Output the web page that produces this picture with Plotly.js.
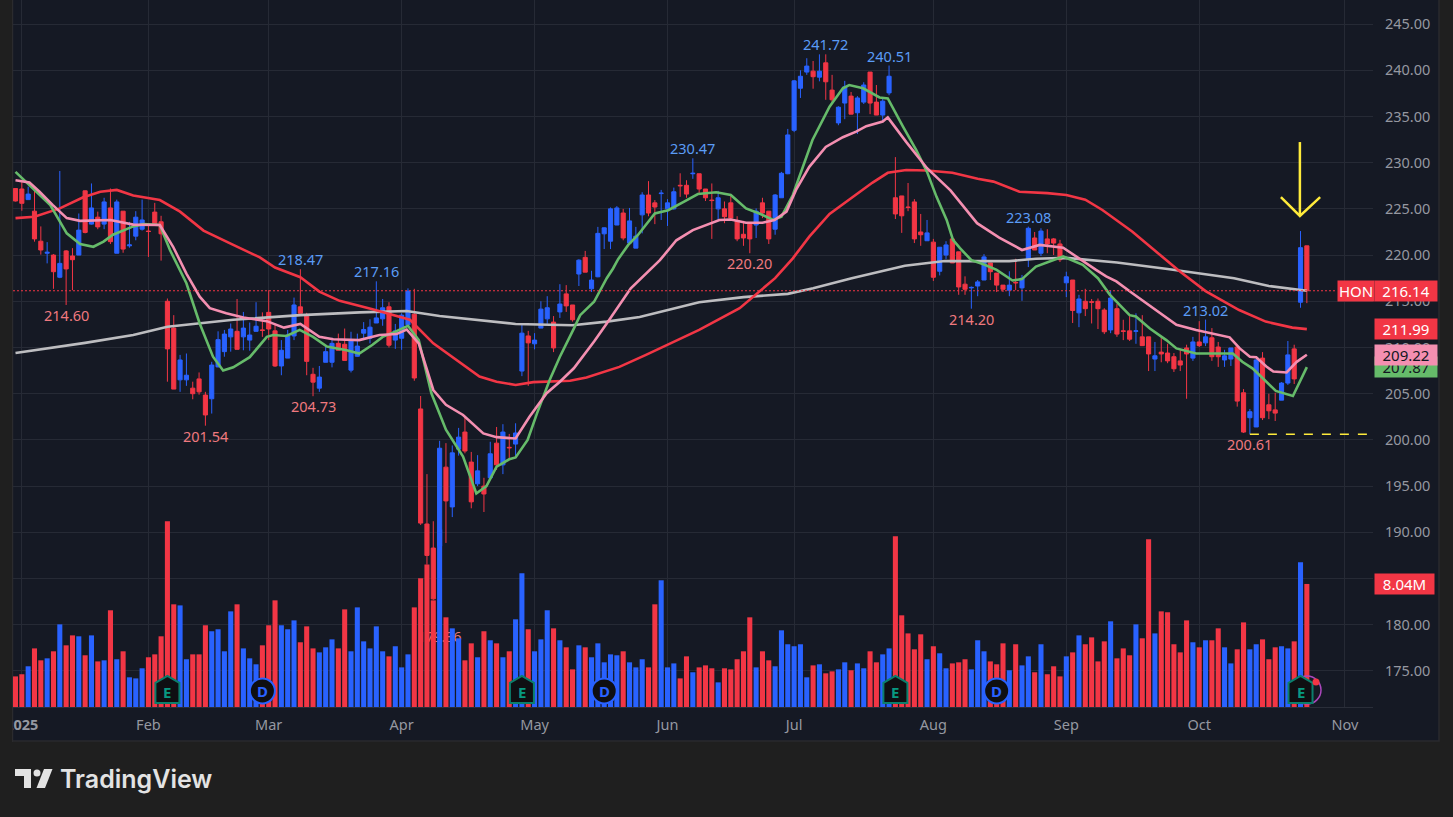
<!DOCTYPE html>
<html><head><meta charset="utf-8">
<script src="https://cdn.plot.ly/plotly-3.0.1.min.js"></script>
<style>html,body{margin:0;padding:0;background:#1f1f1f;overflow:hidden}
#chart{position:absolute;left:0;top:0;width:1453px;height:817px}
#strip{position:absolute;left:0;top:0;width:12px;height:742px;background:#1f1f1f;border-right:1px solid #2b2b2e;z-index:5}</style>
</head><body><div id="chart"></div><div id="strip"></div>
<script>
const open_ = [227.2,227.15,226,224.75,221.5,220.2,220,217.6,220.45,219.9,
220,226.95,223.35,224.1,223.35,225.1,220.2,224.75,221,222.05,
222.8,222.6,224.65,223.6,215,212.1,206.5,206.5,205.6,206.6,
204.85,204.45,207.9,209.55,211.15,211.75,211.15,210.8,211.75,211.9,
213.8,211.8,208,208.85,211.25,214.4,213.5,207.1,205.6,208.4,
208.4,210.45,210.35,207.55,209.05,211.55,211,212.65,213.1,214.4,
210.8,211,212.45,213.6,203.35,190.9,188.3,188.5,197.05,192.75,
199,200.85,197.6,195.25,195,195.9,199.65,197.3,199.2,199.55,
207.45,211.25,210.4,212.1,213.1,212.75,213.85,215.8,214.6,217.95,
219.75,216.35,217.65,222.3,221.5,223.25,224.55,221.3,220.75,224.35,
226.5,225.65,226.65,225,225,227.55,227.55,228.8,228.8,227.15,
225.95,225,225,225.65,223.7,222.25,223.45,223.25,225.65,224.75,
222.8,226.2,228.8,233.5,238.05,239.8,239.9,239.25,240.8,237.85,
234.3,236.45,237.2,235.4,236.55,239.8,236.55,235.15,237.55,226.2,
226.4,225.2,225.75,222.5,221.55,221.4,218.25,220,221.75,220.35,
216.85,216.45,216.65,217.3,219.15,218.05,216.75,216.2,217.05,216.45,
219.6,221.85,220.2,221.75,221.75,221.2,217,217.3,213.75,215,
214.95,215,214.05,211.9,214.2,211.8,211.8,211.75,211.15,211.15,
208.75,209.5,209.4,209,208.55,209.95,208.85,210.6,210.5,211.05,
210.05,208.65,208.75,210.05,205.1,202.4,201.4,208.85,203.8,203.25,
204.3,206.15,209.85,214.9,221];
const close_ = [225.85,225.6,226.6,221.75,220.55,220.3,218.2,219.1,218.5,219.5,
222.7,222.45,225.1,223.05,225.75,221.45,225.75,220.65,221.1,224.1,
223.8,222.55,223.2,222.3,209.85,205.5,208.65,207,205,205.2,
202.7,208.1,210.85,211.45,212,209.8,212.1,211.35,212.3,211.85,
212,208,209.7,211.35,214.6,213.7,208.5,206.25,206.8,209.55,
210.45,209.7,208.6,210.85,210.15,211.95,212.2,213.2,214.3,210.25,
211.8,213.5,216.1,206.7,191,187.5,182.8,199.1,193.4,198.6,
200.3,198.8,193.3,196.65,194.15,198.5,197.3,200.85,199.15,200.75,
211.55,210.5,210.8,214.15,214.3,209.95,214.7,214.5,213,219.45,
218.15,217.3,222.35,222.95,225,225.1,221.85,223.7,222.05,226.5,
224.55,225.2,226.7,225.65,226.85,227.5,226.6,228.85,227.15,226.2,
225.9,226.2,224.15,224,221.75,221.85,221.75,224.75,224.55,221.75,
226.5,228.85,233,238.85,239.35,240.45,239.3,239.9,238.75,236.8,
236,238.2,235.25,237,238.4,236.45,235.15,236.65,239.35,224.45,
224.25,225.15,221.75,222.2,222.4,217.6,220.85,221.1,219.15,216.55,
216.3,216.5,217.1,219.8,218.2,216.75,216.3,216.75,217,217.5,
222.9,220.55,222.6,221.2,221.3,219.5,217.65,214,215.25,214.2,
214.9,214.2,211.7,215.35,211.45,211.75,210.9,211.8,210.2,209.3,
209.1,209.3,208.55,207.7,208.1,209.3,210.6,210.2,211.15,209,
209,209.1,209.95,204.2,200.85,203.05,208.65,202.4,203.15,202.9,
206.15,209.2,206.6,220.8,216.14];
const high_ = [227.2,227.95,227.4,227,223.1,221.4,220.1,229.1,220.55,220.75,
224.5,227,227.75,224.7,226.2,227.2,226,224.75,223.6,224.75,
226,223.45,225.65,224.25,215.3,213.5,209.2,209.35,206.3,207.3,
205.2,208.45,211.75,211.9,212.6,215.25,213.85,212.7,214.9,213.8,
216.2,212.6,210.8,211.9,215.4,218.47,213.75,207.8,208,210.1,
211.05,211.5,212.05,211.7,211.5,212.75,213.05,217.16,215.25,214.9,
212.55,213.7,216.4,216.35,204.75,196.3,191.2,199.9,199.65,199.4,
201.3,202.5,198.7,198.35,195.9,199.8,201.4,201.7,200.65,201.8,
212.55,211.8,211.55,215,215.55,213.4,216.85,216.75,214.6,219.55,
220.45,218.3,223.05,223,225.15,225.3,225,225.1,223.05,226.8,
228,225.95,227.05,226.05,227.3,228.85,228.1,230.47,228.8,227.15,
227.75,226.95,225.8,226.5,224.2,223.7,223.45,225.05,226.2,224.75,
226.6,229,233.65,238.95,240,241.3,241,241.72,241.72,239.5,
236.1,238.85,237.65,237.2,238.7,239.8,238.4,237.05,240.51,230.6,
226.4,227.8,226.05,224.45,223.8,221.75,220.85,221.5,221.95,220.35,
217.7,216.6,217.3,220.1,219.15,218.05,216.75,218.25,219.6,217.85,
223.08,222.5,222.9,222.8,221.85,221.65,218.2,217.3,215.7,216.35,
215.25,215.3,214.25,216.2,214.7,213,213.4,213.7,213.5,211.15,
210.6,211.1,210.4,209.4,209.75,210.3,211.15,212.85,213.02,212.1,
210.6,209.75,209.95,210.05,205.5,203.35,208.75,209.5,205,205.1,
206.25,210.7,210.3,222.6,221];
const low_ = [225.8,224.8,226,221.45,220.05,219.1,216.35,217.5,214.6,216.2,
220,222.35,223.3,222.8,222.8,221.2,220.2,220.25,220.8,221.6,
222.65,219.8,223.2,219.4,206.3,205.5,205.2,205.85,204.4,204.9,
201.54,202.85,207.85,209,209.55,209.8,209.7,209.65,211.7,211.15,
210.8,207.9,207,208.85,210.8,213.7,207,204.73,205.2,208.4,
207.85,209.7,208.6,207.3,209,210.8,210.45,212.65,212.35,210,
209.85,209.75,212.45,206.4,190.8,186.5,182.7,179.36,188.85,191.65,
198.3,198.55,192.6,195,192.2,195.65,196.75,196.3,197.85,198.05,
206.9,205.85,209.8,212.1,212.55,209.5,213.2,213.85,212.8,216.65,
218.15,216,217.6,220.65,220.65,223.25,221.6,221.3,220.75,222.35,
224.2,223.35,223.8,223.15,224.9,226.3,226.2,228.25,226.6,225.85,
221.75,223.8,223.45,223.8,221.5,221,220.2,221.85,224,221.2,
222.2,226.2,228.75,233.3,237,239.5,238,238.8,236.8,236.55,
234.05,234.7,235.25,233.1,236.35,235.25,235.15,234.4,237.3,223.9,
222.4,224.75,221.3,221,221.55,217.2,217.8,219.55,219.15,215.7,
215.7,214.2,215.55,217.3,217.3,216,216,215.55,216.2,215.05,
218.7,220.55,219.9,220.2,220,219.25,215.45,212.65,212.2,213.4,
212.6,212,211.45,211.55,211.15,210.8,210.7,210.4,210.2,207.45,
207.45,208.4,208.3,207.35,207.45,204.45,208.55,210.05,210.15,208.55,
207.9,207.9,208,203.6,200.75,200.61,201.4,202.15,202.25,202.05,
204.3,205.95,206.05,214.3,214.8];
const volume = [2.0,2.14,2.66,3.83,3.05,3.18,3.64,5.40,4.03,4.68,
4.62,3.38,4.68,2.98,3.05,6.32,3.12,3.64,1.94,1.87,
2.53,3.25,3.44,4.62,12.14,6.71,6.64,3.12,3.44,3.44,
5.34,4.95,5.08,3.64,6.25,6.71,3.83,3.18,2.79,4.03,
5.34,6.97,5.34,5.08,5.66,4.23,5.27,3.83,3.57,3.90,
4.42,3.83,6.38,3.64,6.51,4.29,3.83,5.27,3.64,3.31,
3.97,2.59,3.44,6.51,8.41,9.32,6.97,11.6,5.86,5.14,
4.49,3.05,4.16,3.25,4.95,4.36,4.16,3.25,3.64,5.73,
8.74,5.08,3.64,4.42,6.32,5.14,4.36,3.90,2.46,4.03,
3.90,3.25,4.16,2.92,3.44,3.38,3.64,2.92,2.59,3.12,
2.59,6.71,8.28,2.59,2.85,1.87,3.31,2.27,2.59,2.72,
2.53,1.61,2.53,2.46,3.12,3.64,5.86,2.59,3.64,3.05,
2.66,5.01,4.10,3.97,4.10,1.94,2.72,2.79,2.20,2.33,
2.46,2.92,2.40,2.85,2.53,3.64,2.92,3.44,3.83,11.15,
5.99,4.81,3.77,4.75,3.12,3.97,3.51,2.53,2.85,2.92,
3.12,2.46,4.36,3.64,2.98,2.79,4.16,2.40,4.10,2.72,
3.31,2.27,4.10,2.14,2.66,2.00,3.31,3.57,4.68,4.10,
4.55,2.98,4.29,5.60,3.18,3.83,3.38,5.40,4.49,10.96,
4.81,6.25,6.19,4.10,3.57,5.66,4.23,3.90,4.36,4.36,
5.14,3.90,2.85,3.77,5.53,3.77,4.10,4.42,3.12,3.90,
3.97,3.83,4.29,9.46,8.04];

const grayX = [0,11,18.6,24,34.4,45,54.4,61.8,67,74,79,88,93.4,98.6,108,115,122,126,132.1,140.5,146.8,157,161.2,166,174,182,187,192.5,198,204];
const grayY = [209.4,210.5,211.35,212.25,213,213.5,213.8,213.95,213.4,212.9,212.55,212.4,212.8,213.3,214.9,215.45,215.8,216.4,217.5,218.85,219.35,219.35,219.6,219.7,219.2,218.5,218,217.5,216.65,216.14];
const redX = [0,3,7,10.7,13.4,16,18.6,22.8,26,29.7,34.4,38.6,41,45,48,51.2,56.4,62.3,66,70.7,73.3,76,79,81.8,87.6,90.2,95.4,99.6,103.9,108,114.4,117.5,120,122.8,125.4,128.6,132.3,135.4,137.8,140.7,144,148,152,154.5,158.6,163,166,169,171.7,176.4,183.8,188,193.3,197.5,201.7,204];
const redY = [224,224.15,225.05,226.25,226.85,227.05,226.45,225.95,224.7,222.65,221.1,219.75,218.65,217.6,216.05,215.05,214.15,213,210.45,208.1,206.85,206.3,205.95,206.25,206.4,206.75,207.9,209.2,210.6,211.9,214.25,216,217.5,219.65,222,224.45,226.3,227.85,228.9,229.2,229.15,228.9,228.25,227.95,226.85,226.7,226.5,226,224.88,222.55,218.3,216.1,214.05,212.8,212.15,211.99];
const greenX = [0,3,5.5,8.1,10.2,12.3,13.9,15.4,18.6,20.2,22.8,24.4,27,29.1,31.2,32.8,34.4,37,39.7,40.7,42.8,44.9,47,49.2,52.3,54.3,56.4,58,60,62,63.7,65.7,68,70.7,71.8,72.8,74.4,76,78,79,80.9,82.4,84.4,86,88.2,89.2,91.4,93.4,94.4,95.2,96.8,98.3,101,103.1,105.7,107.8,110.7,113,115.4,117.5,119.7,121,122.8,124.4,125.9,128.6,130.7,131.7,133.9,136.5,137.8,140.2,142.3,144,145.5,147.1,148.1,149.2,151,152.9,155,157.5,159,161.2,163.3,165.5,168.6,171,172.9,176,177,179.2,181.8,183.4,186.5,189,192.3,193.8,195.4,197,199.1,201.8,204];
const greenY = [229,227,225.4,222.35,221.2,220.9,221.45,222.2,223.1,223.35,223.25,220.55,216.95,212.6,209,207.5,207.85,208.95,211.15,211.35,211.25,211.9,211.15,210.1,209.7,209.35,210.3,211.15,211.7,212.35,210.8,205.05,201.1,198.2,196.05,194.2,195,197.1,197.9,198.1,200,202.9,206.5,209,212.05,213.5,214.95,217.5,218.55,219.55,221.1,222.15,224.5,224.85,225.8,226.6,226.8,226.5,225.05,224.5,223.8,224.15,226.5,229.55,232.45,236.05,238.05,238.4,238.05,237.05,236.95,233.9,231.35,229,226.3,223.8,221.65,220.75,219.45,219,218.4,217.25,217.4,218.75,219.3,219.85,218.95,217.5,215.7,213.5,213.35,212.05,210.8,209.9,209.35,209.35,209.35,208.45,207.75,206.7,205.3,204.75,207.87];
const pinkX = [0,2.2,3.8,5.9,8.1,10.2,15,18.6,22.8,24.9,27,29.1,30.7,33.3,36,39.7,42.4,45,48,50.2,54.3,57.5,60.2,61.8,63.7,66,68,70.7,73.9,76,79,81.2,83.9,86,88.2,91.4,93.4,97.2,101.8,104.4,107,111.2,113,115.4,118,119.9,121.8,123.3,125.4,128,130.7,132.8,134.4,137,137.8,140.7,144,147.7,151.9,155.4,159,161.8,165.5,167.5,170.7,172.3,173.9,176.5,180.2,183.4,186.5,191.8,193.4,195,196,197.6,198.7,200.8,202.4,204];
const pinkY = [228.1,227.85,226.85,225.4,224,223.7,223.8,223.3,223.25,220.9,218,215.5,214.25,213.7,213.25,212.85,212.15,212.55,211.15,210.9,210.8,211.35,211.45,211.95,210.45,205.4,203.8,202.7,200.7,200.3,200.15,202.5,205.05,206.3,207.75,210.65,212.6,216.4,219.45,221.6,222.7,223.8,223.85,223.5,223.5,223.8,224.7,227.05,229.55,231.7,232.75,233.35,233.95,234.45,234.9,232.25,229.4,227,223.45,221.9,220.55,221.1,220.8,219.85,218.4,217.7,217.15,215.85,214.05,212.45,211.9,211.1,209.9,209,208.95,207.95,207.4,207.3,208.45,209.22];

const monthTicks = [1,21,40,61,82,103,123,145,166,187,210];
const monthLabels = ['<b>2025</b>','Feb','Mar','Apr','May','Jun','Jul','Aug','Sep','Oct','Nov'];
const priceTicks = [175,180,185,190,195,200,205,210,215,220,225,230,235,240,245];
const highLabelIdx = [45,57,107,128,138,160,188];
const highLabelVal = [218.47,217.16,230.47,241.72,240.51,223.08,213.02];
const lowLabelIdx = [8,30,47,116,151,195];
const lowLabelVal = [214.60,201.54,204.73,220.20,214.20,200.61];
const earningsIdx = [24,80,139,203];
const dividendIdx = [39,93,155];

const BLUE='#2962ff', RED='#f23645', GREEN='#66bb6a', PINK='#f48fb1', GRAY='#bdbdc0', YEL='#ffeb3b';
const FONT='"Noto Sans", sans-serif';
const px=x=>(x-13)/1360, py=y=>(707-y)/707;
const idx=open_.map((_,i)=>i);
const volColor=open_.map((o,i)=>close_[i]>=o?BLUE:RED);

const line=(x,y,color,w)=>({type:'scatter',mode:'lines',x,y,yaxis:'y2',line:{color,width:w||2.6},hoverinfo:'skip',showlegend:false,cliponaxis:false});
const lastPrice=close_[close_.length-1];
const data=[
 {type:'bar',x:idx,y:volume,marker:{color:volColor,line:{width:0}},hoverinfo:'skip',showlegend:false},
 {type:'candlestick',x:idx,open:open_,high:high_,low:low_,close:close_,yaxis:'y2',whiskerwidth:0,
  increasing:{line:{color:BLUE,width:1},fillcolor:BLUE},decreasing:{line:{color:RED,width:1},fillcolor:RED},hoverinfo:'skip',showlegend:false},
 line(grayX,grayY,GRAY), line(redX,redY,RED), line(greenX,greenY,GREEN), line(pinkX,pinkY,PINK),
 line([202.9,202.9],[232.23,224.23],YEL,2.5), line([199.9,202.9,206.1],[226.28,224.23,226.28],YEL,2.5)
];

const shapes=[
 {type:'rect',xref:'paper',yref:'paper',x0:px(12.5),x1:px(1439),y0:py(741),y1:py(-2),fillcolor:'#151924',line:{color:'#2a2a2e',width:1.5},layer:'below'},
 {type:'line',xref:'paper',x0:0,x1:px(1337),yref:'y2',y0:lastPrice,y1:lastPrice,line:{color:RED,width:1,dash:'2px,2px'}},
 {type:'line',xref:'x',x0:195,x1:213.6,yref:'y2',y0:200.61,y1:200.61,line:{color:YEL,width:1.5,dash:'dash'}},
 {type:'rect',xref:'x',yref:'y2',x0:64.5,x1:69.5,y0:177.9,y1:179.3,fillcolor:'rgba(0,0,0,0)',line:{width:0},layer:'below',
  label:{text:'179.36',textposition:'middle center',font:{family:FONT,size:14,color:'#e8787c'}}},
 {type:'circle',xref:'paper',yref:'paper',x0:px(1293),x1:px(1321),y0:py(704),y1:py(676),fillcolor:'rgba(0,0,0,0)',line:{color:'#ab47bc',width:1.5}}
];
const anns=[];
const house='M -12 -12 L 12 -12 L 12 8 L 0 15 L -12 8 Z';
const EVY=172.84;
earningsIdx.forEach(i=>{
 shapes.push({type:'path',xsizemode:'pixel',ysizemode:'pixel',xref:'x',yref:'y2',xanchor:i,yanchor:EVY,path:house,fillcolor:'#0f0f12',line:{color:'#0b7f6c',width:2}});
 anns.push({x:i,y:EVY,xref:'x',yref:'y2',text:'<b>E</b>',showarrow:false,font:{family:FONT,size:15,color:'#089981'},yshift:-1});
});
dividendIdx.forEach(i=>{
 shapes.push({type:'circle',xsizemode:'pixel',ysizemode:'pixel',xref:'x',yref:'y2',xanchor:i,yanchor:EVY,x0:-12.5,x1:12.5,y0:-12.5,y1:12.5,fillcolor:'#0f0f12',line:{color:'#2962ff',width:2}});
 anns.push({x:i,y:EVY,xref:'x',yref:'y2',text:'<b>D</b>',showarrow:false,font:{family:FONT,size:15,color:'#2962ff'}});
});
shapes.push({type:'circle',xref:'paper',yref:'paper',x0:px(1312.5),x1:px(1319.5),y0:py(685.5),y1:py(678.5),fillcolor:RED,line:{width:0}});

highLabelIdx.forEach((i,k)=>anns.push({x:i,y:highLabelVal[k],xref:'x',yref:'y2',text:highLabelVal[k].toFixed(2),showarrow:false,yanchor:'bottom',yshift:-2,font:{family:FONT,size:14.5,color:'#5b9cf6'}}));
lowLabelIdx.forEach((i,k)=>anns.push({x:i,y:lowLabelVal[k],xref:'x',yref:'y2',text:lowLabelVal[k].toFixed(2),showarrow:false,yanchor:'top',yshift:2,font:{family:FONT,size:14.5,color:'#f0797f'}}));

const tag=(y,yref,text,bg,fg,x,w)=>({xref:'paper',x:px(x),xanchor:'left',y,yref,text,showarrow:false,bgcolor:bg,width:w,height:20,borderpad:0,align:'center',valign:'middle',font:{family:FONT,size:15,color:fg}});
anns.push(tag(lastPrice,'y2','HON',RED,'#ffffff',1337,36));
anns.push(tag(lastPrice,'y2','216.14',RED,'#ffffff',1374,62));
anns.push(tag(211.99,'y2','211.99',RED,'#ffffff',1374,62));
anns.push(tag(207.87,'y2','207.87',GREEN,'#131722',1374,62));
anns.push(tag(209.22,'y2','209.22',PINK,'#131722',1374,62));
anns.push(tag(8.04,'y','8.04M',RED,'#ffffff',1374,59));
anns.push({xref:'paper',yref:'paper',x:px(57.5),y:py(779),xanchor:'left',yanchor:'middle',text:'TradingView',showarrow:false,font:{family:'Inter, sans-serif',size:25,color:'#e3e3e3',weight:600}});
const pp=(x,y)=>px(x)+' '+py(y);
shapes.push({type:'path',xref:'paper',yref:'paper',path:`M ${pp(15,769)} L ${pp(31,769)} L ${pp(31,788)} L ${pp(24,788)} L ${pp(24,776)} L ${pp(15,776)} Z`,fillcolor:'#e3e3e3',line:{width:0}});
shapes.push({type:'path',xref:'paper',yref:'paper',path:`M ${pp(44,769)} L ${pp(52.5,769)} L ${pp(45,788)} L ${pp(36.5,788)} Z`,fillcolor:'#e3e3e3',line:{width:0}});
shapes.push({type:'circle',xref:'paper',yref:'paper',x0:px(33.5),x1:px(40.5),y0:py(776.5),y1:py(769.5),fillcolor:'#e3e3e3',line:{width:0}});

const layout={
 width:1453,height:817,autosize:false,margin:{l:13,r:80,t:0,b:110,pad:0},
 paper_bgcolor:'#1f1f1f',plot_bgcolor:'rgba(0,0,0,0)',hovermode:false,showlegend:false,bargap:0.2,boxgap:0.35,boxgroupgap:0,dragmode:false,
 xaxis:{type:'linear',range:[-0.395,214.45],tickmode:'array',tickvals:monthTicks,ticktext:monthLabels,showgrid:true,gridcolor:'#262a35',gridwidth:1,zeroline:false,
  rangeslider:{visible:false},ticks:'outside',ticklen:5,tickcolor:'rgba(0,0,0,0)',tickfont:{family:FONT,size:14.5,color:'#9598a1'},showline:true,linecolor:'#2a2e39',linewidth:1},
 yaxis:{range:[0,46.2],visible:false,fixedrange:true},
 yaxis2:{overlaying:'y',side:'right',range:[171.1,247.6],tickmode:'array',tickvals:priceTicks,tickformat:'.2f',showgrid:true,gridcolor:'#262a35',gridwidth:1,zeroline:false,
  ticks:'outside',ticklen:8,tickcolor:'rgba(0,0,0,0)',tickfont:{family:FONT,size:14.5,color:'#9598a1'},showline:false},
 shapes,annotations:anns
};
Plotly.newPlot('chart',data,layout,{displayModeBar:false,staticPlot:true});
</script></body></html>
